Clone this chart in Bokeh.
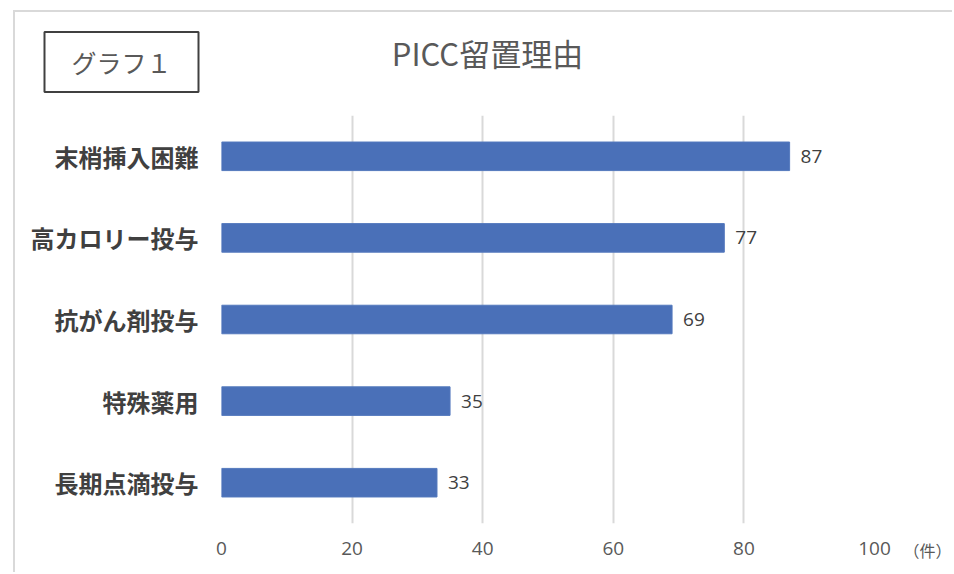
from bokeh.plotting import figure
from bokeh.models import FactorRange, Range1d, FixedTicker, Label, ColumnDataSource
from bokeh.layouts import column, row
from bokeh.core.properties import value
from bokeh.embed import file_html
from bokeh.resources import INLINE

# ---- data ----
categories = ["末梢挿入困難", "高カロリー投与", "抗がん剤投与", "特殊薬用", "長期点滴投与"]
counts = [87, 77, 69, 35, 33]
x_ticks = [0, 20, 40, 60, 80, 100]
title_text = "PICC留置理由"
tag_text = "グラフ１"
unit_text = "（件）"

CJK = "Noto Sans CJK JP"
LAT = "Open Sans"
TOTAL_W = 937
HEAD_H = 103
MAIN_H = 457
MAIN_W = 879
UNIT_W = TOTAL_W - MAIN_W

source = ColumnDataSource(data=dict(cat=categories, val=counts,
                                    lab=[str(v) for v in counts]))


def style_axis(ax):
    ax.axis_line_color = None
    ax.major_tick_line_color = None
    ax.minor_tick_line_color = None
    ax.major_tick_in = 0
    ax.major_tick_out = 0


# ---- header (tag box + title) ----
head = figure(width=TOTAL_W, height=HEAD_H, x_range=Range1d(0, TOTAL_W),
              y_range=Range1d(0, HEAD_H), output_backend="svg",
              toolbar_location=None, title=None,
              x_axis_location=None, y_axis_location=None,
              min_border_left=0, min_border_right=0,
              min_border_top=0, min_border_bottom=0)
head.grid.visible = False
head.outline_line_color = None
head.add_layout(Label(x=472, y=63, text=title_text, text_align="center",
                      text_baseline="middle", text_font=CJK,
                      text_font_size="31px", text_color="#595959"))
head.add_layout(Label(x=106, y=53.5, text=tag_text, text_align="center",
                      text_baseline="middle", text_font=CJK,
                      text_font_size="25px", text_color="#595959",
                      border_line_color="#404040", border_line_width=2,
                      background_fill_color="white", padding=(27, 27, 12, 12)))

# ---- main bar chart ----
p = figure(width=MAIN_W, height=MAIN_H, title=None,
           y_range=FactorRange(factors=categories[::-1], range_padding=0),
           x_range=Range1d(0, 100),
           output_backend="svg", toolbar_location=None,
           min_border_left=206, min_border_right=20,
           min_border_top=0, min_border_bottom=49)
p.outline_line_color = None
p.ygrid.grid_line_color = None
p.xgrid.grid_line_color = "#d9d9d9"
p.xgrid.grid_line_width = 2

p.xaxis.ticker = FixedTicker(ticks=x_ticks)
style_axis(p.xaxis)
style_axis(p.yaxis)
p.xaxis.major_label_text_font = LAT
p.xaxis.major_label_text_font_size = "19px"
p.xaxis.major_label_text_color = "#595959"
p.xaxis.major_label_standoff = 18

p.yaxis.major_label_text_font = CJK
p.yaxis.major_label_text_font_size = "24px"
p.yaxis.major_label_text_font_style = "bold"
p.yaxis.major_label_text_color = "#404040"
p.yaxis.major_label_standoff = 23

p.hbar(y="cat", right="val", left=0, height=0.35, source=source,
       fill_color="#4a70b8", line_color="#5479bd", line_width=1)

p.text(x="val", y="cat", text="lab", source=source, x_offset=11,
       text_align="left", text_baseline="middle",
       text_font=value(LAT), text_font_size="19px", text_color="#404040")

# ---- unit label strip (an axis whose only tick carries the unit) ----
unit = figure(width=UNIT_W, height=MAIN_H, title=None,
              x_range=Range1d(0, UNIT_W), y_range=Range1d(0, 1),
              output_backend="svg", toolbar_location=None,
              y_axis_location=None,
              min_border_left=0, min_border_right=0,
              min_border_top=0, min_border_bottom=49)
unit.grid.visible = False
unit.outline_line_color = None
unit.xaxis.ticker = FixedTicker(ticks=[33])
unit.xaxis.major_label_overrides = {33: unit_text}
style_axis(unit.xaxis)
unit.xaxis.major_label_text_font = CJK
unit.xaxis.major_label_text_font_size = "16px"
unit.xaxis.major_label_text_color = "#595959"
unit.xaxis.major_label_standoff = 14

layout = column(head, row(p, unit, spacing=0), spacing=0)
layout.margin = (10, 0, 0, 13)
layout.styles = {"border-top": "2px solid #d9d9d9", "border-left": "2px solid #d9d9d9"}

open("out.html", "w").write(file_html(layout, INLINE))
